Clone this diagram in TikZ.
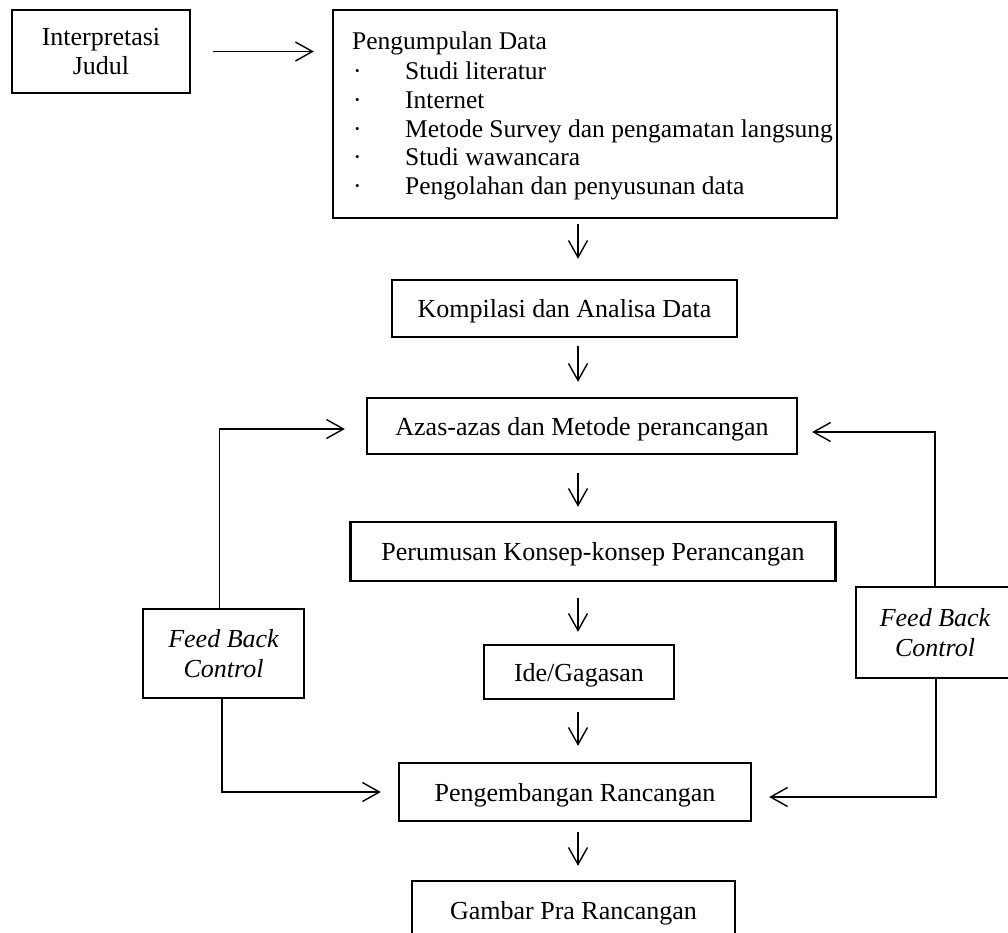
\documentclass[tikz,border=0pt]{standalone}
\usepackage{fontspec}
\setmainfont{Liberation Serif}
\usetikzlibrary{arrows.meta,calc}
\begin{document}
\begin{tikzpicture}[x=1pt,y=-1pt,
  box/.style={draw, line width=2.3pt, inner sep=0pt, align=center, text depth=0pt, font=\fontsize{26}{29}\selectfont},
  fbbox/.style={box, font=\fontsize{26}{29.5}\selectfont\itshape},
  txt/.style={inner sep=0pt, font=\fontsize{25.5}{29}\selectfont},
  arr/.style={line width=1.4pt, -{Straight Barb[length=17pt,width=19pt,line width=1.4pt]}}]
\useasboundingbox (0,0) rectangle (1008,932);
\fill[white] (0,0) rectangle (1008,932);
% boxes
\node[box, minimum width=178pt, minimum height=83pt] (interp) at (101,51.5) {Interpretasi\\Judul};
\node[box, minimum width=504pt, minimum height=208pt] (pd) at (585,114) {};
\node[txt, anchor=base west] (pd0) at (352,49) {Pengumpulan Data};
\node[txt, anchor=base west] (d1) at (353,79) {·};
\node[txt, anchor=base west] (i1) at (405,79) {Studi literatur};
\node[txt, anchor=base west] (d2) at (353,108) {·};
\node[txt, anchor=base west] (i2) at (405,108) {Internet};
\node[txt, anchor=base west] (d3) at (353,137) {·};
\node[txt, anchor=base west] (i3) at (405,137) {Metode Survey dan pengamatan langsung};
\node[txt, anchor=base west] (d4) at (353,165) {·};
\node[txt, anchor=base west] (i4) at (405,165) {Studi wawancara};
\node[txt, anchor=base west] (d5) at (353,194) {·};
\node[txt, anchor=base west] (i5) at (405,194) {Pengolahan dan penyusunan data};
\node[box, minimum width=345pt, minimum height=57pt] (komp) at (564.5,308.5) {Kompilasi dan Analisa Data};
\node[box, minimum width=430pt, minimum height=56pt] (azas) at (582,426) {Azas-azas dan Metode perancangan};
\node[box, minimum width=485pt, minimum height=59pt] (perum) at (593,551.5) {Perumusan Konsep-konsep Perancangan};
\node[box, minimum width=190pt, minimum height=54pt] (ide) at (579,672) {Ide/Gagasan};
\node[box, minimum width=352pt, minimum height=58pt] (peng) at (575,792) {Pengembangan Rancangan};
\node[box, minimum width=323pt, minimum height=58pt] (gamb) at (573.5,910) {Gambar Pra Rancangan};
\node[fbbox, minimum width=161pt, minimum height=89pt] (fbl) at (223.5,653.5) {Feed Back\\Control};
\node[fbbox, minimum width=158pt, minimum height=91pt] (fbr) at (935,632.5) {Feed Back\\Control};
% connectors
\coordinate (cx) at (578,0);
\draw[arr] ($(interp.east)+(22,0)$) -- ($(interp.east -| pd.west)+(-18,0)$);
\draw[arr] ($(pd.south -| cx)+(0,5)$) -- ($(komp.north -| cx)+(0,-20)$);
\draw[arr] ($(komp.south -| cx)+(0,8)$) -- ($(azas.north -| cx)+(0,-15)$);
\draw[arr] ($(azas.south -| cx)+(0,18)$) -- ($(perum.north -| cx)+(0,-14)$);
\draw[arr] ($(perum.south -| cx)+(0,16)$) -- ($(ide.north -| cx)+(0,-12)$);
\draw[arr] ($(ide.south -| cx)+(0,12)$) -- ($(peng.north -| cx)+(0,-16)$);
\draw[arr] ($(peng.south -| cx)+(0,10)$) -- ($(gamb.north -| cx)+(0,-14)$);
\draw[arr] ($(fbl.north)+(-4,0)$) |- ($(azas.west)+(-21,3)$);
\draw[arr] ($(fbl.south)+(-1.5,0)$) |- ($(peng.west)+(-17,0)$);
\draw[arr] (fbr.north) |- ($(azas.east)+(14,6)$);
\draw[arr] ($(fbr.south)+(1,0)$) |- ($(peng.east)+(17,5)$);
\end{tikzpicture}
\end{document}
